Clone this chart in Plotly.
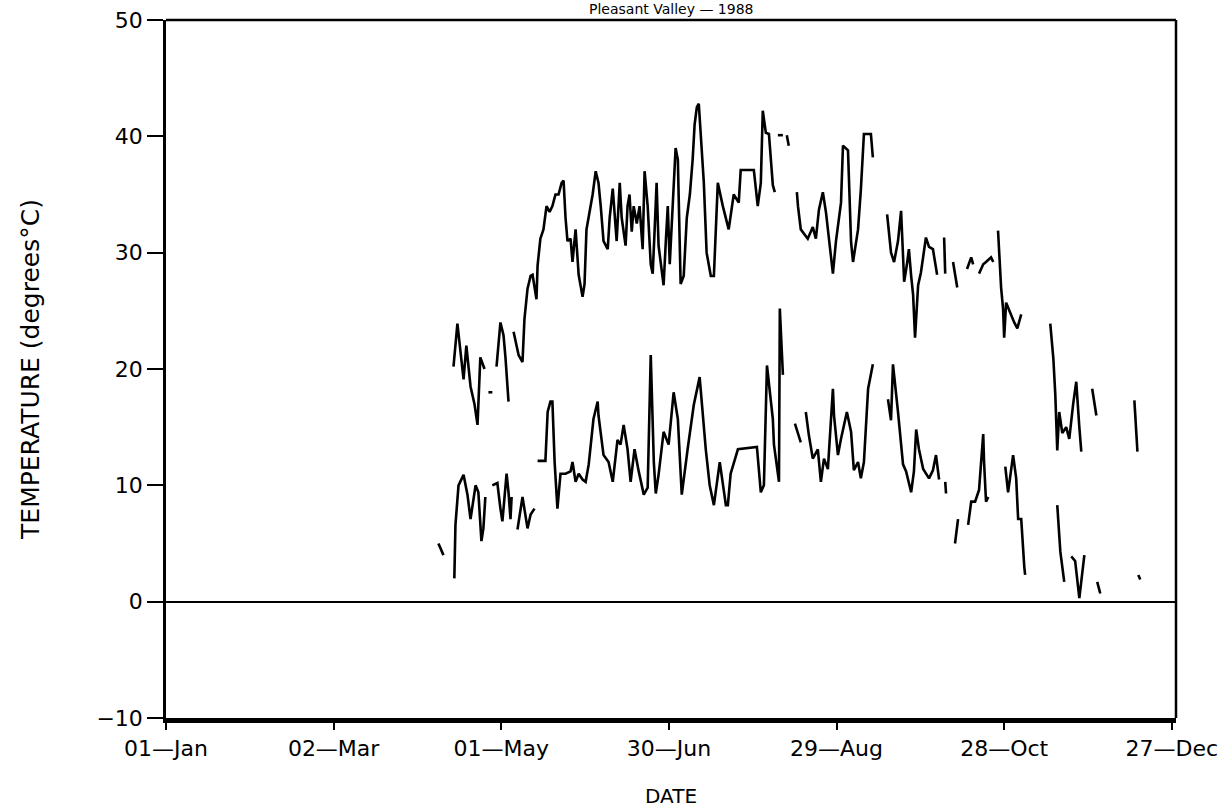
import plotly.graph_objects as go

# Day of year (0 = 01-Jan) and daily temperatures; None marks gaps
max_day = [102.9, 104.3, 105.4, 106.5, 107.5, 109.0, 110.4, 111.5, 112.5, 114.0, None,
           115.4, 116.8, None,
           118.3, 119.7, 120.8, 121.5, 122.6, None,
           124.4, 126.2, 127.6, 128.3, 129.4, 130.5, 131.2, 132.6, 133.0, 134.0, 135.1, 136.2, 137.3,
           138.3, 139.4, 140.5, 141.6, 142.3, 143.0, 143.7, 144.8, 145.5, 146.6, 147.7, 149.1, 149.8,
           150.5, 151.6, 152.7, 153.8, 154.8, 155.6, 156.6, 158.1, 158.8, 159.9, 160.6, 161.3, 162.4,
           163.1, 164.5, 165.2, 165.9, 166.7, 167.4, 168.5, 169.5, 170.6, 171.3, 172.4, 173.5, 174.2,
           174.9, 175.6, 176.3, 177.4, 178.1, 178.9, 179.6, 180.3, 181.4, 182.4, 183.2, 183.9, 184.2,
           185.3, 186.4, 187.5, 188.5, 189.2, 190.0, 190.7, 191.4, 192.5, 193.5, 195.0, 196.1, 197.5,
           199.3, 201.4, 203.2, 205.0, 205.7, 210.4, 211.8, 212.9, 213.6, 214.7, 215.8, 216.5, 217.2,
           217.9, None,
           219.0, 220.8, None,
           222.2, 222.9, None,
           225.8, 226.2, 227.2, 228.7, 229.7, 231.5, 232.6, 233.7, 235.1, 236.2, 237.3, 238.7, 239.8,
           241.6, 242.3, 244.1, 245.2, 245.9, 247.7, 248.7, 249.8, 252.3, 253.0, None,
           258.1, 259.5, 260.6, 262.0, 263.1, 264.2, 265.2, 265.9, 266.7, 267.4, 268.1, 269.2, 270.2,
           272.0, 273.1, 274.5, 276.0, None,
           278.5, 278.9, None,
           281.7, 283.2, None,
           286.7, 288.2, 288.9, None,
           291.0, 292.5, 293.5, 295.3, 296.1, None,
           297.8, 298.9, 299.6, 300.0, 300.7, 301.8, 303.6, 304.7, 306.1, None,
           316.5, 317.6, 318.3, 319.0, 319.7, 320.8, 322.2, 323.3, 324.7, 325.8, 326.9, 327.6, None,
           331.5, 333.0, None,
           346.6, 347.7]
max_temp = [20.2, 23.9, 21.5, 19.1, 22, 18.5, 17, 15.2, 21, 20, None,
            18, 18, None,
            20.2, 24, 22.9, 21, 17.2, None,
            23.2, 21.2, 20.6, 24.3, 26.9, 28, 28.1, 26, 28.9, 31.2, 32, 34, 33.5,
            34, 35, 35, 36, 36.2, 33, 31, 31.2, 29.2, 32, 28.1, 26.2, 27.3,
            32, 33.5, 35, 37, 36, 34, 31, 30.3, 33, 35.5, 33, 31, 36,
            33, 30.6, 34, 35, 31.8, 34, 32.5, 34, 30.3, 37, 34, 29, 28.2,
            32, 36, 30.6, 28.5, 27.2, 31, 34, 29, 34, 39, 38, 32, 27.3,
            28, 33, 35, 38, 41, 42.5, 42.8, 40, 36, 30, 28, 28, 36,
            34, 32, 35, 34.3, 37.1, 37.1, 34, 36, 42.2, 40.3, 40.2, 38, 35.8,
            35.2, None,
            40.1, 40.1, None,
            40.1, 39.2, None,
            35.2, 34, 32, 31.5, 31.2, 32.2, 31.2, 33.7, 35.2, 33.5, 31.2, 28.2, 31,
            34.3, 39.2, 38.8, 30.9, 29.2, 32, 35.4, 40.2, 40.2, 38.2, None,
            33.3, 30, 29.2, 31, 33.6, 27.5, 29, 30.3, 28, 26.4, 22.7, 27.2, 28.3,
            31.3, 30.5, 30.3, 28.1, None,
            31.3, 28.2, None,
            29.2, 27, None,
            28.6, 29.6, 29, None,
            28.2, 29, 29.2, 29.6, 29.2, None,
            31.9, 27, 25.2, 22.7, 25.7, 25, 24, 23.5, 24.7, None,
            23.9, 20.9, 17.8, 13, 16.3, 14.5, 15, 14, 17, 18.9, 15, 12.9, None,
            18.3, 16, None,
            17.3, 12.9]

min_day = [97.5, 99.3, None,
           103.2, 103.6, 104.7, 106.5, 107.9, 109.0, 110.8, 111.8, 112.9, 113.6, 114.3, None,
           116.8, 118.6, 119.7, 120.4, 121.1, 121.9, 122.6, 123.3, 123.7, None,
           125.8, 127.6, 129.4, 130.5, 131.9, None,
           133.0, 135.8, 136.6, 137.6, 138.3, 139.1, 140.1, 141.2, 143.0, 144.8, 145.5, 146.6, 147.7,
           149.1, 150.2, 151.3, 153.0, 154.5, 154.8, 156.6, 158.4, 159.9, 161.6, 162.7, 163.8, 165.2,
           166.3, 167.7, 169.2, 171.0, 172.4, 173.5, 174.6, 175.3, 176.3, 178.1, 179.9, 180.6, 181.7,
           183.2, 184.6, 186.7, 188.9, 191.0, 193.2, 194.6, 196.1, 198.2, 199.3, 200.4, 201.1, 202.1,
           204.7, 211.5, 212.9, 214.0, 215.1, 216.1, 217.2, 217.6, 219.4, 219.7, 220.8, None,
           225.1, 227.2, None,
           229.0, 230.1, 231.5, 233.3, 234.4, 235.5, 236.9, 238.7, 239.1, 240.5, 241.6, 243.7, 245.2,
           246.2, 247.7, 248.7, 249.8, 251.3, 253.0, None,
           258.4, 259.5, 260.2, 261.3, 262.0, 263.8, 264.9, 266.7, 267.7, 268.5, 269.5, 271.0, 273.1,
           274.5, 275.6, 276.7, None,
           278.9, 279.2, None,
           282.4, 283.5, None,
           287.1, 288.2, 289.6, 291.0, 292.5, 292.8, 293.5, 294.3, None,
           300.4, 301.4, 303.2, 304.3, 305.0, 306.1, 307.2, 307.5, None,
           319.0, 320.1, 321.5, None,
           324.0, 325.4, 326.9, 328.7, None,
           333.3, 334.4, None,
           348.0, 348.7]
min_temp = [5, 4, None,
            2, 6.6, 10, 10.9, 9.2, 7.1, 10, 9.4, 5.2, 6.3, 9, None,
            10, 10.2, 8, 6.9, 8.8, 11, 9.4, 7.1, 9, None,
            6.2, 9, 6.3, 7.5, 8, None,
            12.1, 12.1, 16.3, 17.2, 17.2, 12, 8, 11, 11, 11.2, 12, 10.3, 11,
            10.5, 10.3, 11.8, 15.7, 17.2, 16, 12.6, 12, 10.3, 13.9, 13.5, 15.2, 13.1,
            10.3, 13.1, 11.2, 9.2, 9.8, 21.2, 12, 9.3, 10.9, 14.6, 13.5, 15.2, 18,
            15.7, 9.2, 13.1, 16.9, 19.3, 13.1, 10, 8.3, 12, 10, 8.3, 8.3, 11,
            13.1, 13.3, 9.4, 10, 20.3, 18, 15.7, 13.5, 10.3, 25.2, 19.5, None,
            15.3, 13.7, None,
            16.3, 14.3, 12.3, 13.1, 10.3, 12.3, 11.4, 18.3, 16, 12.6, 14, 16.3, 14.6,
            11.3, 12, 10.6, 12, 18.3, 20.4, None,
            17.4, 15.6, 20.4, 18, 16.3, 11.8, 11.2, 9.4, 11.2, 14.8, 13.1, 11.4, 10.6,
            11.3, 12.6, 10.5, None,
            10.3, 9.3, None,
            5, 7.1, None,
            6.6, 8.6, 8.6, 9.6, 14.4, 12, 8.6, 9, None,
            11.6, 9.4, 12.6, 10.6, 7.1, 7.1, 3, 2.3, None,
            8.3, 4.3, 1.7, None,
            3.9, 3.5, 0.3, 4, None,
            1.7, 0.7, None,
            2.3, 1.9]

tick_days = [0, 60, 120, 180, 240, 300, 360]
tick_labels = ["01\u2014Jan", "02\u2014Mar", "01\u2014May", "30\u2014Jun",
               "29\u2014Aug", "28\u2014Oct", "27\u2014Dec"]
y_ticks = [-10, 0, 10, 20, 30, 40, 50]
y_tick_labels = ["\u221210", "0", "10", "20", "30", "40", "50"]
title_text = "Pleasant Valley \u2014 1988"

FONT = "DejaVu Sans"

fig = go.Figure()
fig.add_trace(go.Scatter(x=max_day, y=max_temp, mode="lines",
                         line=dict(color="black", width=2.6), connectgaps=False,
                         name="Max"))
fig.add_trace(go.Scatter(x=min_day, y=min_temp, mode="lines",
                         line=dict(color="black", width=2.6), connectgaps=False,
                         name="Min"))

fig.update_layout(
    width=1222, height=808,
    margin=dict(l=166, r=46, t=20, b=90, autoexpand=False),
    paper_bgcolor="white", plot_bgcolor="white",
    showlegend=False,
    font=dict(family=FONT, color="black", size=22),
)
fig.update_xaxes(
    range=[0, 361.5], tickmode="array", tickvals=tick_days, ticktext=tick_labels,
    automargin=False,
    showgrid=False, zeroline=False,
    showline=True, linecolor="black", linewidth=5,
    ticks="outside", ticklen=7, tickwidth=1.5, tickcolor="black",
    tickfont=dict(family=FONT, size=22),
    title=dict(text="DATE", font=dict(family=FONT, size=20), standoff=30),
)
fig.update_yaxes(
    range=[-10, 50], tickmode="array", tickvals=y_ticks, ticktext=y_tick_labels,
    automargin=False,
    showgrid=False,
    zeroline=True, zerolinecolor="black", zerolinewidth=2,
    showline=True, linecolor="black", linewidth=2.5,
    ticks="outside", ticklen=16, tickwidth=1.5, tickcolor="black",
    tickfont=dict(family=FONT, size=22),
    title=dict(text="TEMPERATURE (degrees\u00b0C)", font=dict(family=FONT, size=25), standoff=50),
)
# top and right frame lines
fig.add_shape(type="line", xref="paper", yref="paper", x0=0, x1=1, y0=1, y1=1,
              line=dict(color="black", width=2.5))
fig.add_shape(type="line", xref="paper", yref="paper", x0=1, x1=1, y0=0, y1=1,
              line=dict(color="black", width=2.5))
# title squeezed into the narrow top strip
fig.add_annotation(text=title_text, xref="paper", yref="paper", x=0.5, y=1,
                   yanchor="bottom", yshift=1, showarrow=False,
                   font=dict(family=FONT, size=14, color="black"))

fig.write_html("out.html", config={"displayModeBar": False},
               post_script="document.body.style.margin='0';document.body.style.overflow='hidden';")
